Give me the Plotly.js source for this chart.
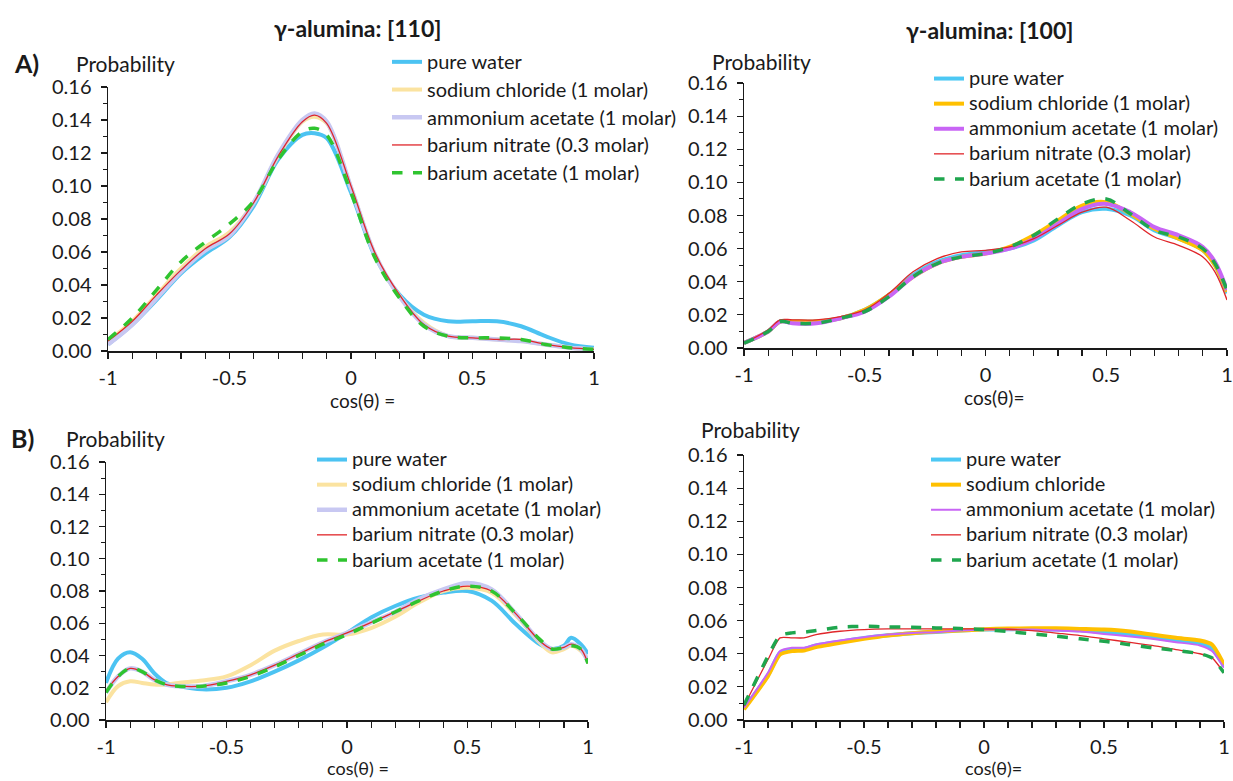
<!DOCTYPE html>
<html>
<head>
<meta charset="utf-8">
<script src="https://cdn.plot.ly/plotly-3.0.1.min.js"></script>
<style>html,body{margin:0;padding:0;background:#fff;}#chart{width:1233px;height:781px;}</style>
</head>
<body>
<div id="chart"></div>
<script>
// ---------- DATA ----------
const seriesNames = ["pure water", "sodium chloride (1 molar)", "ammonium acetate (1 molar)", "barium nitrate (0.3 molar)", "barium acetate (1 molar)"];
const seriesNamesBR = ["pure water", "sodium chloride", "ammonium acetate (1 molar)", "barium nitrate (0.3 molar)", "barium acetate (1 molar)"];
const panelTitles = ["γ-alumina: [110]", "γ-alumina: [100]"];
const panelLetters = ["A)", "B)"];
const yLabel = "Probability";
const xLabels = ["cos(θ) =", "cos(θ)="];
const xTickVals = [-1, -0.5, 0, 0.5, 1];
const xTickText = ["-1", "-0.5", "0", "0.5", "1"];

// Panel A, [110]
const xA1 = [-1, -0.9, -0.8, -0.7, -0.6, -0.5, -0.4, -0.3, -0.2, -0.15, -0.1, 0, 0.1, 0.2, 0.3, 0.4, 0.5, 0.6, 0.7, 0.8, 0.9, 1];
const a1Water = [0.004, 0.016, 0.031, 0.047, 0.059, 0.069, 0.088, 0.116, 0.131, 0.132, 0.129, 0.096, 0.057, 0.034, 0.022, 0.018, 0.018, 0.018, 0.015, 0.009, 0.004, 0.002];
const a1NaCl  = [0.006, 0.018, 0.034, 0.050, 0.063, 0.072, 0.090, 0.118, 0.139, 0.142, 0.138, 0.099, 0.058, 0.033, 0.017, 0.009, 0.008, 0.007, 0.006, 0.004, 0.002, 0.001];
const a1NH4Ac = [0.004, 0.016, 0.032, 0.048, 0.061, 0.070, 0.090, 0.119, 0.140, 0.144, 0.139, 0.099, 0.058, 0.033, 0.016, 0.009, 0.008, 0.007, 0.006, 0.004, 0.002, 0.001];
const a1BaNO3 = [0.006, 0.018, 0.034, 0.049, 0.062, 0.071, 0.090, 0.118, 0.139, 0.143, 0.138, 0.100, 0.059, 0.034, 0.016, 0.009, 0.008, 0.007, 0.007, 0.004, 0.002, 0.001];
const a1BaAc  = [0.007, 0.020, 0.037, 0.054, 0.066, 0.077, 0.091, 0.116, 0.133, 0.135, 0.131, 0.096, 0.056, 0.032, 0.015, 0.009, 0.008, 0.008, 0.007, 0.004, 0.002, 0.001];

// Panel A, [100]
const xA2 = [-1, -0.9, -0.85, -0.8, -0.7, -0.6, -0.5, -0.4, -0.3, -0.2, -0.1, 0, 0.1, 0.2, 0.3, 0.4, 0.5, 0.6, 0.7, 0.8, 0.9, 0.95, 1];
const a2Water = [0.003, 0.010, 0.016, 0.016, 0.016, 0.018, 0.023, 0.032, 0.044, 0.052, 0.056, 0.058, 0.060, 0.065, 0.074, 0.082, 0.084, 0.080, 0.071, 0.066, 0.059, 0.050, 0.033];
const a2NaCl  = [0.003, 0.010, 0.016, 0.016, 0.016, 0.018, 0.023, 0.032, 0.043, 0.051, 0.055, 0.057, 0.061, 0.068, 0.077, 0.086, 0.088, 0.081, 0.072, 0.066, 0.059, 0.050, 0.034];
const a2NH4Ac = [0.003, 0.010, 0.016, 0.015, 0.015, 0.018, 0.022, 0.031, 0.043, 0.051, 0.055, 0.057, 0.060, 0.066, 0.075, 0.084, 0.087, 0.082, 0.073, 0.068, 0.061, 0.052, 0.035];
const a2BaNO3 = [0.003, 0.011, 0.017, 0.017, 0.017, 0.019, 0.023, 0.033, 0.046, 0.054, 0.058, 0.059, 0.061, 0.066, 0.074, 0.082, 0.085, 0.077, 0.067, 0.062, 0.055, 0.046, 0.029];
const a2BaAc  = [0.003, 0.010, 0.016, 0.015, 0.015, 0.018, 0.022, 0.031, 0.043, 0.051, 0.055, 0.057, 0.061, 0.068, 0.078, 0.087, 0.090, 0.081, 0.071, 0.067, 0.060, 0.051, 0.035];

// Panel B, [110]
const xB1 = [-1, -0.95, -0.9, -0.85, -0.8, -0.75, -0.7, -0.6, -0.5, -0.4, -0.3, -0.2, -0.1, 0, 0.1, 0.2, 0.3, 0.4, 0.5, 0.6, 0.7, 0.8, 0.85, 0.9, 0.93, 0.97, 1];
const b1Water = [0.023, 0.038, 0.042, 0.038, 0.029, 0.023, 0.021, 0.019, 0.020, 0.024, 0.030, 0.037, 0.045, 0.054, 0.0636, 0.0707, 0.076, 0.079, 0.080, 0.074, 0.0595, 0.047, 0.044, 0.046, 0.051, 0.047, 0.041];
const b1NaCl  = [0.011, 0.021, 0.024, 0.023, 0.022, 0.022, 0.023, 0.0245, 0.027, 0.034, 0.043, 0.049, 0.053, 0.053, 0.057, 0.064, 0.073, 0.080, 0.082, 0.079, 0.065, 0.048, 0.042, 0.044, 0.046, 0.043, 0.037];
const b1NH4Ac = [0.017, 0.027, 0.032, 0.030, 0.025, 0.022, 0.021, 0.021, 0.024, 0.028, 0.034, 0.041, 0.048, 0.054, 0.0605, 0.067, 0.075, 0.081, 0.085, 0.081, 0.066, 0.049, 0.044, 0.045, 0.047, 0.044, 0.036];
const b1BaNO3 = [0.018, 0.027, 0.032, 0.030, 0.025, 0.022, 0.021, 0.021, 0.024, 0.028, 0.034, 0.041, 0.048, 0.054, 0.0605, 0.067, 0.074, 0.080, 0.083, 0.080, 0.066, 0.049, 0.044, 0.045, 0.047, 0.044, 0.035];
const b1BaAc  = [0.017, 0.027, 0.032, 0.030, 0.025, 0.022, 0.021, 0.021, 0.023, 0.027, 0.033, 0.040, 0.047, 0.053, 0.060, 0.067, 0.074, 0.080, 0.083, 0.080, 0.066, 0.050, 0.044, 0.045, 0.046, 0.044, 0.035];

// Panel B, [100]
const xB2 = [-1, -0.9, -0.85, -0.8, -0.75, -0.7, -0.6, -0.5, -0.4, -0.3, -0.2, -0.1, 0, 0.1, 0.2, 0.3, 0.4, 0.5, 0.6, 0.7, 0.8, 0.9, 0.95, 1];
const b2Water = [0.0070, 0.027, 0.0405, 0.0425, 0.0428, 0.045, 0.0473, 0.0495, 0.0512, 0.0524, 0.0532, 0.054, 0.0546, 0.0548, 0.0550, 0.0546, 0.0542, 0.053, 0.052, 0.050, 0.048, 0.0465, 0.043, 0.0325];
const b2NaCl  = [0.0064, 0.0265, 0.0396, 0.0416, 0.042, 0.044, 0.0466, 0.049, 0.051, 0.0524, 0.0534, 0.054, 0.0548, 0.0552, 0.0554, 0.0554, 0.055, 0.0546, 0.0536, 0.0516, 0.0496, 0.048, 0.0456, 0.0335];
const b2NH4Ac = [0.0074, 0.0285, 0.0416, 0.0436, 0.0436, 0.0456, 0.048, 0.050, 0.0516, 0.0526, 0.053, 0.054, 0.0546, 0.0546, 0.0546, 0.054, 0.0534, 0.052, 0.0506, 0.049, 0.047, 0.045, 0.0416, 0.0315];
const b2BaNO3 = [0.0084, 0.0365, 0.0496, 0.0496, 0.0496, 0.0516, 0.0536, 0.0546, 0.055, 0.055, 0.055, 0.055, 0.055, 0.0548, 0.054, 0.0525, 0.051, 0.049, 0.047, 0.045, 0.0425, 0.040, 0.0375, 0.0285];
const b2BaAc  = [0.009, 0.0385, 0.051, 0.0526, 0.053, 0.054, 0.056, 0.0566, 0.0562, 0.056, 0.0556, 0.0552, 0.0546, 0.0534, 0.052, 0.0506, 0.049, 0.0476, 0.0456, 0.0436, 0.042, 0.040, 0.0375, 0.0285];

// ---------- STYLES ----------
const FONT = "Lato, 'Liberation Sans', sans-serif";
const INK = "#1a1a1a";
const stylesPale = [
  {color: "#4cc3f2", width: 4},
  {color: "#fbe3a0", width: 4},
  {color: "#c8c8f2", width: 4.5},
  {color: "#e0262a", width: 1.3},
  {color: "#2fc42f", width: 3.5, dash: "dash"}
];
const stylesA2 = [
  {color: "#4cc8f4", width: 4},
  {color: "#ffc000", width: 4},
  {color: "#c865f5", width: 4},
  {color: "#e0262a", width: 1.3},
  {color: "#1fa64e", width: 3.5, dash: "dash"}
];
const stylesB2 = [
  {color: "#4cc8f4", width: 4},
  {color: "#ffc000", width: 4},
  {color: "#c865f5", width: 2},
  {color: "#e0262a", width: 1.3},
  {color: "#1fa64e", width: 3.5, dash: "dash"}
];

const panels = [
  {x: xA1, ys: [a1Water, a1NaCl, a1NH4Ac, a1BaNO3, a1BaAc], names: seriesNames, styles: stylesPale, ax: "", legend: "legend", smooth: 1},
  {x: xA2, ys: [a2Water, a2NaCl, a2NH4Ac, a2BaNO3, a2BaAc], names: seriesNames, styles: stylesA2, ax: "2", legend: "legend2", smooth: 1},
  {x: xB1, ys: [b1Water, b1NaCl, b1NH4Ac, b1BaNO3, b1BaAc], names: seriesNames, styles: stylesPale, ax: "3", legend: "legend3", smooth: 1},
  {x: xB2, ys: [b2Water, b2NaCl, b2NH4Ac, b2BaNO3, b2BaAc], names: seriesNamesBR, styles: stylesB2, ax: "4", legend: "legend4", smooth: 0.6}
];

const traces = [];
panels.forEach((p) => {
  p.ys.forEach((y, i) => {
    traces.push({
      type: "scatter", mode: "lines",
      x: p.x, y: y,
      name: '<span style="font-size:20px">' + p.names[i] + '</span>',
      xaxis: "x" + p.ax, yaxis: "y" + p.ax,
      legend: p.legend,
      line: Object.assign({shape: "spline", smoothing: p.smooth}, p.styles[i])
    });
  });
});

function xAxis(domain, anchor) {
  return {
    domain: domain, anchor: anchor, range: [-1, 1], tickmode: "array",
    tickvals: xTickVals, ticktext: xTickText,
    ticks: "outside", ticklen: 6, tickwidth: 1.2, tickcolor: INK,
    minor: {tickmode: "linear", tick0: -1, dtick: 0.1, ticks: "outside", ticklen: 6, tickwidth: 1.2, tickcolor: INK},
    showline: true, linecolor: INK, linewidth: 1.5,
    showgrid: false, zeroline: false, ticklabelstandoff: 2,
    tickfont: {family: FONT, size: 20, color: INK}, fixedrange: true
  };
}
function yAxis(domain, anchor) {
  return {
    domain: domain, anchor: anchor, range: [0, 0.16], dtick: 0.02, tick0: 0, tickformat: ".2f",
    ticks: "outside", ticklen: 6, tickwidth: 1.2, tickcolor: INK,
    minor: {dtick: 0.01, ticks: "outside", ticklen: 4, tickwidth: 1, tickcolor: INK},
    showline: true, linecolor: INK, linewidth: 1.5,
    showgrid: false, zeroline: false, ticklabelstandoff: 5,
    tickfont: {family: FONT, size: 20, color: INK}, fixedrange: true
  };
}
function legendAt(x, y, size) {
  return {
    x: x, y: y, xanchor: "left", yanchor: "top", xref: "paper", yref: "paper",
    bgcolor: "rgba(0,0,0,0)", borderwidth: 0, traceorder: "normal",
    font: {family: FONT, size: size, color: INK}, itemclick: false, itemdoubleclick: false
  };
}

const ann = (text, x, y, opts) => Object.assign({
  text: text, x: x, y: y, xref: "paper", yref: "paper", showarrow: false,
  xanchor: "center", yanchor: "middle", font: {family: FONT, size: 19, color: INK}
}, opts || {});

const W = 1233, H = 781;
const px = v => v / W, py = v => 1 - v / H;
const boldFont = (s) => ({family: FONT, size: s, color: INK, weight: "bold"});
const labelFont = {family: FONT, size: 21, color: INK};

const layout = {
  width: W, height: H, margin: {l: 0, r: 0, t: 0, b: 0},
  paper_bgcolor: "#fff", plot_bgcolor: "#fff", showlegend: true,
  xaxis:  xAxis([px(108), px(594)], "y"),
  yaxis:  yAxis([py(351), py(87)], "x"),
  xaxis2: xAxis([px(744), px(1227)], "y2"),
  yaxis2: yAxis([py(348), py(83)], "x2"),
  xaxis3: xAxis([px(106), px(588)], "y3"),
  yaxis3: yAxis([py(720), py(462)], "x3"),
  xaxis4: xAxis([px(744), px(1224)], "y4"),
  yaxis4: yAxis([py(720), py(455)], "x4"),
  legend:  legendAt(px(387), py(43), 19),
  legend2: legendAt(px(929), py(61), 17),
  legend3: legendAt(px(312), py(442), 17),
  legend4: legendAt(px(926), py(442), 17),
  annotations: [
    ann(panelTitles[0], px(358), py(28), {font: boldFont(23)}),
    ann(panelTitles[1], px(990), py(30), {font: boldFont(23)}),
    ann(panelLetters[0], px(12), py(63), {xanchor: "left", font: boldFont(25)}),
    ann(panelLetters[1], px(9), py(438), {xanchor: "left", font: boldFont(25)}),
    ann(yLabel, px(74), py(63), {xanchor: "left", font: labelFont}),
    ann(yLabel, px(710), py(62), {xanchor: "left", font: labelFont}),
    ann(yLabel, px(64), py(438), {xanchor: "left", font: labelFont}),
    ann(yLabel, px(699), py(430), {xanchor: "left", font: labelFont}),
    ann(xLabels[0], px(362), py(400)),
    ann(xLabels[1], px(994), py(397)),
    ann(xLabels[0], px(358), py(768), {font: {family: FONT, size: 18, color: INK}}),
    ann(xLabels[1], px(993), py(768), {font: {family: FONT, size: 18, color: INK}})
  ]
};

Plotly.newPlot("chart", traces, layout, {staticPlot: true, displayModeBar: false});
</script>
</body>
</html>
